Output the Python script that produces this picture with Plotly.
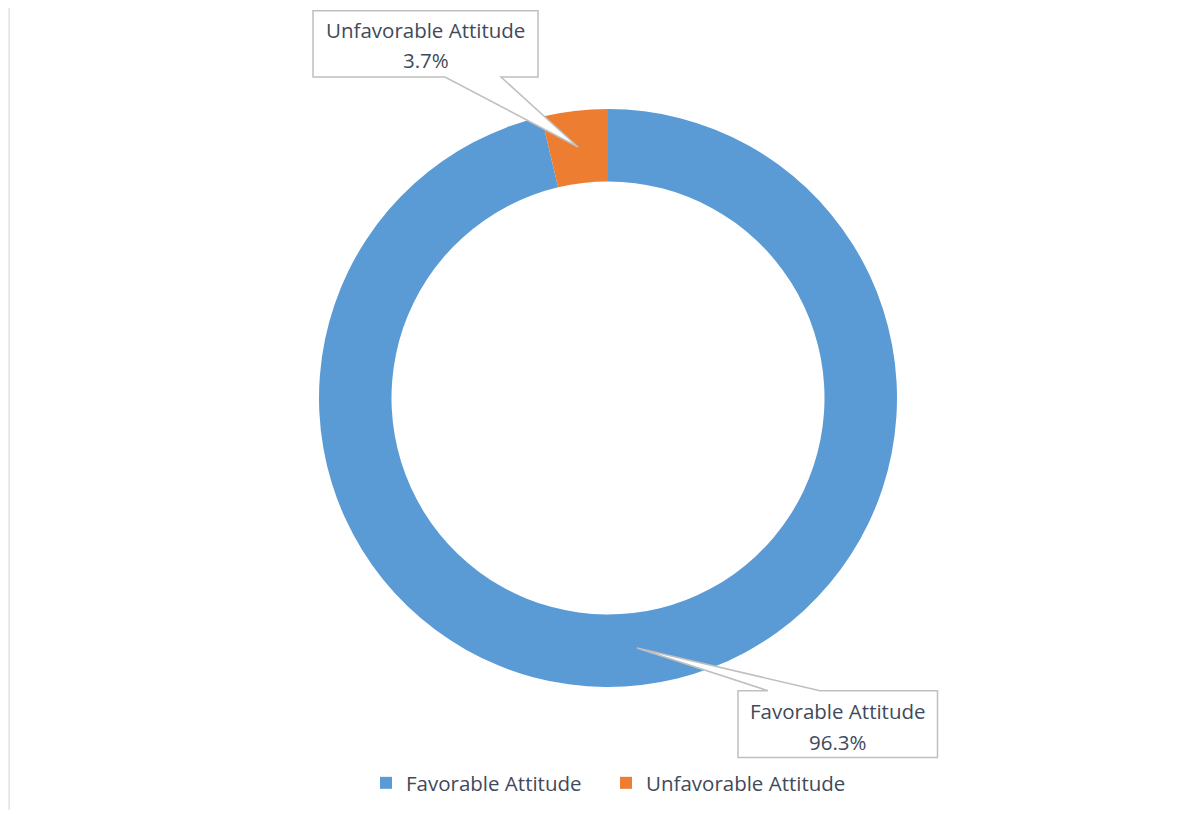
import plotly.graph_objects as go

labels = ["Favorable Attitude", "Unfavorable Attitude"]
values = [96.3, 3.7]
colors = ["#5b9bd5", "#ed7d31"]

OFF = 8  # page body margin
W, H = 1202 - 2 * OFF, 818 - 2 * OFF
def fx(x): return (x - OFF) / W
def fy(y): return 1 - (y - OFF) / H

cx, cy, R = 608, 398, 289
hole = 216.5 / 289

fig = go.Figure()
fig.add_trace(go.Pie(
    labels=labels, values=values, hole=hole, sort=False, direction="clockwise",
    rotation=0, marker=dict(colors=colors, line=dict(width=0)),
    textinfo="none", hoverinfo="label+percent",
    domain=dict(x=[fx(cx - R), fx(cx + R)], y=[fy(cy + R), fy(cy - R)]),
))

def poly(pts):
    return "M " + " L ".join(f"{fx(x)},{fy(y)}" for x, y in pts) + " Z"

callout_style = dict(type="path", xref="paper", yref="paper",
                     fillcolor="white", line=dict(color="#bfbfbf", width=1.5), layer="above")
# Unfavorable callout
fig.add_shape(path=poly([(313, 10.7), (538, 10.7), (538, 77), (501, 77), (578, 147),
                         (445, 77), (313, 77)]), **callout_style)
# Favorable callout
fig.add_shape(path=poly([(738, 690.7), (768, 690.7), (637, 648), (820, 690.7),
                         (937.5, 690.7), (937.5, 757.5), (738, 757.5)]), **callout_style)

txt_font = dict(family="Open Sans", size=20.5, color="#3f4a5a")
total = sum(values)
for (x, y1, y2), lab, v in zip([(838, 711, 742), (425.5, 30, 60)], labels, values):
    fig.add_annotation(x=fx(x), y=fy(y1), xref="paper", yref="paper", text=lab,
                       showarrow=False, font=txt_font, xanchor="center", yanchor="middle")
    fig.add_annotation(x=fx(x), y=fy(y2), xref="paper", yref="paper", text=f"{v/total*100:.1f}%",
                       showarrow=False, font=txt_font, xanchor="center", yanchor="middle")

# left border line
fig.add_shape(type="line", xref="paper", yref="paper", x0=0.001, x1=0.001, y0=0, y1=1,
              line=dict(color="#dde3e8", width=1.5))

fig.update_layout(
    width=W, height=H, margin=dict(l=0, r=0, t=0, b=0),
    paper_bgcolor="white", plot_bgcolor="white",
    showlegend=True,
    legend=dict(orientation="h", x=fx(366), y=fy(783), xanchor="left", yanchor="middle",
                font=dict(family="Open Sans", size=20.5, color="#3f4a5a"),
                entrywidth=195, entrywidthmode="pixels",
                bgcolor="rgba(0,0,0,0)"),
)
fig.write_html("out.html")
